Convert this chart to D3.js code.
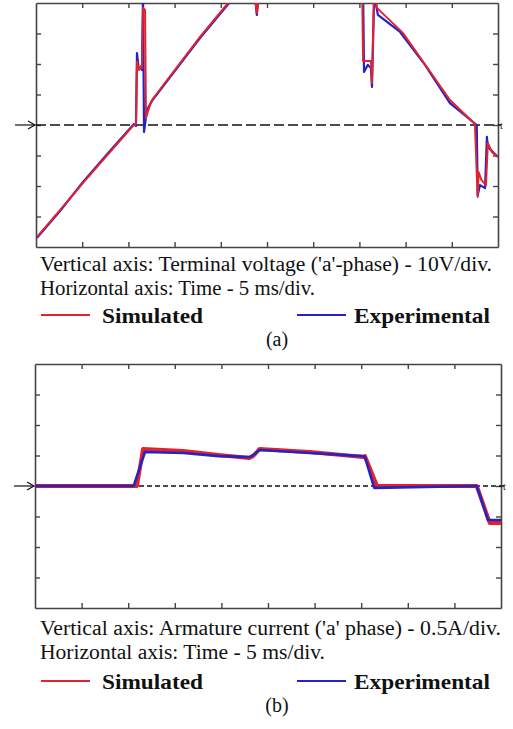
<!DOCTYPE html>
<html>
<head>
<meta charset="utf-8">
<script src="https://cdn.jsdelivr.net/npm/d3@7"></script>
<style>
  body { margin: 0; background: #fff; }
  text { font-family: "Liberation Serif", "Times New Roman", serif; fill: #111; }
</style>
</head>
<body>
<div id="chart"></div>
<script>
// (a) terminal voltage, time in ms, voltage in V
const voltSimT = [0.11, 2.6, 5.09, 8.0, 10.5, 10.82, 10.93, 11.15, 11.36, 11.47, 11.58, 11.8, 11.9, 12.23, 12.55, 17.75, 20.78, 22.1, 23.7, 23.9, 24.1, 28.6, 35.3, 35.4, 36.25, 36.36, 36.6, 36.9, 39.7, 44.8, 47.5, 47.8, 47.9, 48.2, 48.7, 48.9, 49.35, 50];
const voltSimV = [-36.7, -27.9, -19.0, -8.9, -0.3, 0.3, 20.7, 18.0, 19.3, 18.7, 38.4, 37.7, 2.3, 5.6, 8.2, 28.9, 40, 43.6, 42, 36.7, 42.6, 45, 44, 21.0, 21.0, 13.8, 45, 38.4, 30.2, 8.2, 0.3, -23.6, -15.4, -18, -19.7, -5.9, -8.9, -10.5];
const voltExpT = [0.11, 2.6, 5.09, 8.0, 10.6, 10.82, 10.93, 11.09, 11.36, 11.47, 11.58, 11.69, 12.0, 12.55, 17.75, 20.9, 22.1, 23.7, 23.9, 24.1, 28.6, 35.4, 35.5, 35.9, 36.25, 36.36, 36.6, 37.0, 39.4, 42.1, 44.8, 47.7, 47.8, 48.05, 48.6, 48.8, 48.9, 50];
const voltExpV = [-37.0, -28.2, -18.7, -8.5, 0.3, -0.3, 23.6, 19.0, 18.7, 18.0, 42.6, -2.3, 4.9, 7.9, 28.5, 40, 43.6, 42, 36.1, 42.6, 45, 44, 17.4, 19.7, 18.7, 12.5, 42.6, 36.1, 30.5, 19.7, 7.2, 0, -23.0, -19.7, -20.7, -3.9, -7.2, -10.5];

// (b) armature current, time in ms, current in A
const currSimT = [0, 10.94, 11.59, 15.9, 19.7, 23.0, 23.4, 24.1, 29.5, 35.2, 35.4, 36.7, 47.4, 48.8, 50];
const currSimI = [0, 0, 0.607, 0.574, 0.508, 0.459, 0.49, 0.607, 0.557, 0.475, 0.49, 0, 0, -0.607, -0.607];
const currExpT = [0, 10.6, 10.73, 11.8, 15.9, 19.7, 23.0, 23.4, 24.1, 29.5, 35.2, 35.4, 36.4, 47.4, 48.6, 50];
const currExpI = [0, 0, 0.066, 0.557, 0.541, 0.49, 0.475, 0.508, 0.59, 0.541, 0.49, 0.475, -0.03, 0, -0.557, -0.557];

const timeTicks = [5, 10, 15, 20, 25, 30, 35, 40, 45];
const voltTicks = [-30, -20, -10, 0, 10, 20, 30];
const currTicks = [-1.5, -1, -0.5, 0, 0.5, 1, 1.5];

const redColor = "#e4222b";
const blueColor = "#2323c8";

const svg = d3.select("#chart")
    .append("svg")
    .attr("width", 513)
    .attr("height", 729);

function drawPanel(opts) {
    const x = d3.scaleLinear().domain([0, 50]).range([opts.left, opts.right]);
    const y = d3.scaleLinear().domain(opts.yDomain).range([opts.bottom, opts.top]);
    const g = svg.append("g");

    // Clip traces to the scope screen
    g.append("clipPath")
        .attr("id", opts.id + "-clip")
        .append("rect")
        .attr("x", opts.left)
        .attr("y", opts.top)
        .attr("width", opts.right - opts.left)
        .attr("height", opts.bottom - opts.top);

    // Frame with inward ticks on every side
    const axes = [
        [d3.axisBottom(x).tickValues(timeTicks), `translate(0,${opts.top})`],
        [d3.axisTop(x).tickValues(timeTicks), `translate(0,${opts.bottom})`],
        [d3.axisRight(y).tickValues(opts.yTicks), `translate(${opts.left},0)`],
        [d3.axisLeft(y).tickValues(opts.yTicks), `translate(${opts.right},0)`]
    ];
    axes.forEach(([axis, tr]) => {
        const a = g.append("g")
            .attr("transform", tr)
            .call(axis.tickSizeInner(5).tickSizeOuter(0).tickFormat(""));
        a.select(".domain").attr("stroke", "#444").attr("stroke-width", 1.6);
        a.selectAll(".tick line").attr("stroke", "#444").attr("stroke-width", 1.4);
    });

    // Zero reference line
    g.append("line")
        .attr("x1", opts.left)
        .attr("x2", opts.right + 3)
        .attr("y1", y(0))
        .attr("y2", y(0))
        .attr("stroke", "#111")
        .attr("stroke-width", 1.5)
        .attr("stroke-dasharray", opts.dash);

    // Left marker arrow
    const y0 = y(0);
    g.append("line")
        .attr("x1", opts.left - 21).attr("x2", opts.left - 1)
        .attr("y1", y0).attr("y2", y0)
        .attr("stroke", "#111").attr("stroke-width", 1.2);
    g.append("path")
        .attr("d", `M${opts.left - 8},${y0 - 4}L${opts.left - 1},${y0}L${opts.left - 8},${y0 + 4}`)
        .attr("fill", "none").attr("stroke", "#111").attr("stroke-width", 1.2);

    // small time marker on the right
    g.append("text")
        .attr("x", opts.right + 2)
        .attr("y", y0 + 4)
        .style("font-size", "10px")
        .text("t");

    const line = d3.line()
        .x(d => x(d[0]))
        .y(d => y(d[1]));

    const traces = g.append("g").attr("clip-path", `url(#${opts.id}-clip)`);
    opts.series.forEach(s => {
        traces.append("path")
            .datum(d3.zip(s.t, s.v))
            .attr("fill", "none")
            .attr("stroke", s.color)
            .attr("stroke-width", s.width)
            .attr("stroke-linejoin", "round")
            .attr("d", line);
    });
}

drawPanel({
    id: "volt", left: 36, right: 498, top: 3, bottom: 247,
    yDomain: [-40, 40], yTicks: voltTicks, dash: "10,4",
    series: [
        { t: voltExpT, v: voltExpV, color: blueColor, width: 2.2 },
        { t: voltSimT, v: voltSimV, color: redColor, width: 2 }
    ]
});

drawPanel({
    id: "curr", left: 35, right: 501, top: 364, bottom: 608,
    yDomain: [-2, 2], yTicks: currTicks, dash: "5,3",
    series: [
        { t: currSimT, v: currSimI, color: redColor, width: 4 },
        { t: currExpT, v: currExpI, color: blueColor, width: 2.6 }
    ]
});

// Captions and legends (text stretched to the widths in the figure)
function caption(x, y, txt, size, len, bold) {
    svg.append("text")
        .attr("x", x).attr("y", y)
        .attr("textLength", len)
        .attr("lengthAdjust", "spacingAndGlyphs")
        .style("font-size", size + "px")
        .style("font-weight", bold ? "bold" : "normal")
        .text(txt);
}

function drawCaption(lines, lens, yBase, legendY, label) {
    caption(40, yBase, lines[0], 20, lens[0], false);
    caption(40, yBase + 24, lines[1], 20, lens[1], false);

    svg.append("line").attr("x1", 41).attr("x2", 90).attr("y1", legendY - 8).attr("y2", legendY - 8)
        .attr("stroke", redColor).attr("stroke-width", 2);
    caption(102, legendY, "Simulated", 21, 101, true);

    svg.append("line").attr("x1", 297).attr("x2", 346).attr("y1", legendY - 8).attr("y2", legendY - 8)
        .attr("stroke", blueColor).attr("stroke-width", 2);
    caption(354, legendY, "Experimental", 21, 136, true);

    svg.append("text").attr("x", 277).attr("y", legendY + 23)
        .attr("text-anchor", "middle").style("font-size", "20px").text(label);
}

drawCaption(["Vertical axis: Terminal voltage ('a'-phase) - 10V/div.",
             "Horizontal axis: Time - 5 ms/div."], [452, 275], 271, 323, "(a)");
drawCaption(["Vertical axis: Armature current ('a' phase) - 0.5A/div.",
             "Horizontal axis: Time - 5 ms/div."], [461, 285], 635, 689, "(b)");
</script>
</body>
</html>
